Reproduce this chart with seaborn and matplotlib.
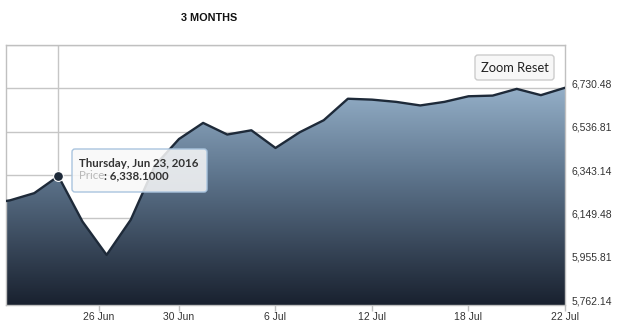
import numpy as np
import pandas as pd
import matplotlib
matplotlib.use("Agg")
import matplotlib.pyplot as plt
import seaborn as sns
from matplotlib.patches import FancyBboxPatch
from matplotlib.colors import LinearSegmentedColormap
from matplotlib.transforms import IdentityTransform, ScaledTranslation

# ---------------- data ----------------
dates = ["2016-06-20", "2016-06-21", "2016-06-22", "2016-06-23", "2016-06-24",
         "2016-06-27", "2016-06-28", "2016-06-29", "2016-06-30", "2016-07-01",
         "2016-07-04", "2016-07-05", "2016-07-06", "2016-07-07", "2016-07-08",
         "2016-07-11", "2016-07-12", "2016-07-13", "2016-07-14", "2016-07-15",
         "2016-07-18", "2016-07-19", "2016-07-20", "2016-07-21", "2016-07-22"]
prices = [6212, 6230, 6262, 6338.1, 6135,
          5986, 6143, 6385, 6504, 6576,
          6524, 6543, 6464, 6534, 6588,
          6684, 6680, 6670, 6654, 6670,
          6695, 6698, 6728, 6700, 6733]
x_tick_dates = ["2016-06-26", "2016-06-30", "2016-07-06", "2016-07-12", "2016-07-18", "2016-07-22"]
x_tick_labels = ["26 Jun", "30 Jun", "6 Jul", "12 Jul", "18 Jul", "22 Jul"]
y_ticks = [5762.14, 5955.81, 6149.48, 6343.14, 6536.81, 6730.48, 6924.15]
y_tick_labels = ["5,762.14", "5,955.81", "6,149.48", "6,343.14", "6,536.81", "6,730.48", ""]
title = "3 MONTHS"
tooltip_date = "Thursday, Jun 23, 2016"
tooltip_label = "Price"
tooltip_value = 6338.1
tooltip_index = 3
button_text = "Zoom Reset"

# ---------------- figure ----------------
sns.set_theme(style="white")
plt.rcParams['font.family'] = ['Liberation Sans', 'DejaVu Sans']

W, H = 618, 327
fig = plt.figure(figsize=(W / 100, H / 100), dpi=100)
ax = fig.add_axes([6 / W, (H - 305) / H, 559 / W, 260 / H])

# ordinal positions (trading days equally spaced)
pos = np.arange(len(dates)) - 1
dnum = pd.to_datetime(pd.Series(dates)).map(pd.Timestamp.toordinal).to_numpy()
tnum = pd.to_datetime(pd.Series(x_tick_dates)).map(pd.Timestamp.toordinal).to_numpy()
tick_pos = np.interp(tnum, dnum, pos)
df = pd.DataFrame({"pos": pos, "price": prices})

ymin, ymax = y_ticks[0], y_ticks[-1]
xmin, xmax = -0.17, pos[-1]
ax.set_xlim(xmin, xmax)
ax.set_ylim(ymin, ymax)

# grid lines
for yt in y_ticks:
    ax.axhline(yt, color="#c6c6c6", lw=1, zorder=0)

# crosshair
ax.plot([pos[tooltip_index]] * 2, [prices[tooltip_index], ymax], color="#c6c6c6", lw=1, zorder=0.5)

# gradient area
poly = ax.fill_between(df["pos"], df["price"], ymin, facecolor="none", edgecolor="none", zorder=1)
cmap = LinearSegmentedColormap.from_list("g", ["#19212f", "#5e758d", "#aecbe4"])
grad = np.linspace(0, 1, 256).reshape(-1, 1)
im = ax.imshow(grad, extent=[xmin, xmax, ymin, ymax], origin="lower", aspect="auto",
               cmap=cmap, zorder=1)
im.set_clip_path(poly.get_paths()[0], transform=ax.transData)

# line
sns.lineplot(data=df, x="pos", y="price", ax=ax, color="#1e2a39", lw=1.7, zorder=3)
ax.scatter([pos[tooltip_index]], [prices[tooltip_index]], s=50, color="#1e2a39",
           edgecolor="white", linewidth=0.8, zorder=4)

# spines / ticks
for s in ax.spines.values():
    s.set_visible(True)
    s.set_color("#c0c0c0")
    s.set_linewidth(1)
ax.set_xlabel("")
ax.set_ylabel("")
ax.set_xticks(tick_pos)
ax.set_xticklabels(x_tick_labels)
ax.tick_params(axis="x", bottom=True, length=4, width=1, color="#c0c0c0", pad=1,
               labelsize=7.5, labelcolor="#333333")
ax.yaxis.tick_right()
ax.set_yticks(y_ticks)
ax.set_yticklabels(y_tick_labels)
ax.tick_params(axis="y", right=False, left=False, length=0, pad=5, labelsize=7.5, labelcolor="#333333")
off = ScaledTranslation(0, 5 / 100, fig.dpi_scale_trans)
for lab in ax.get_yticklabels():
    lab.set_transform(lab.get_transform() + off)

# title
fig.text(209 / W, 1 - 18 / H, title, ha="center", va="center", fontsize=7.8,
         fontweight="bold", color="#111111")

# tooltip (pixel coordinates)
idt = IdentityTransform()
tt = FancyBboxPatch((72, H - 192), 135, 43, boxstyle="round,pad=0,rounding_size=3",
                    transform=idt, facecolor=(0.975, 0.975, 0.975, 0.86),
                    edgecolor="#a9c4de", lw=1, zorder=10)
fig.add_artist(tt)
fam = ["Lato", "DejaVu Sans"]
fig.text(79 / W, 1 - 163 / H, tooltip_date, ha="left", va="center", fontsize=8.3,
         fontweight="bold", color="#333333", family=fam, zorder=11)
t1 = fig.text(79 / W, 1 - 176 / H, tooltip_label, ha="left", va="center", fontsize=8.3,
              color="#b8b8b8", family=fam, zorder=11)
fig.canvas.draw()
bb = t1.get_window_extent()
fig.text(bb.x1 / W, 1 - 176 / H, ": " + f"{tooltip_value:,.4f}", ha="left", va="center",
         fontsize=8.3, fontweight="bold", color="#333333", family=fam, zorder=11)

# zoom reset button
btn = FancyBboxPatch((475, H - 80), 79, 25, boxstyle="round,pad=0,rounding_size=3",
                     transform=idt, facecolor="#f7f7f7", edgecolor="#cccccc", lw=1, zorder=10)
fig.add_artist(btn)
fig.text(514.5 / W, 1 - 67.5 / H, button_text, ha="center", va="center", fontsize=9.3,
         color="#222222", family=fam, zorder=11)

fig.savefig("out.png", dpi=100)
